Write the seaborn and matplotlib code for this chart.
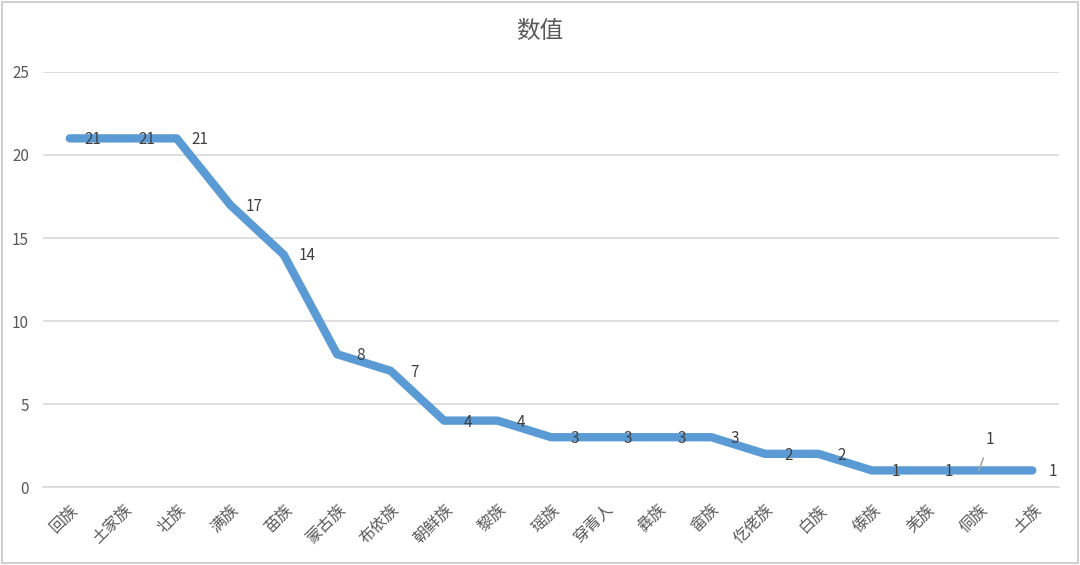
import matplotlib
matplotlib.use("Agg")
import matplotlib.pyplot as plt
import seaborn as sns
import pandas as pd
from matplotlib.patches import Rectangle

categories = ["回族", "土家族", "壮族", "满族", "苗族", "蒙古族", "布依族", "朝鲜族", "黎族", "瑶族",
              "穿青人", "彝族", "畲族", "仡佬族", "白族", "傣族", "羌族", "侗族", "土族"]
values = [21, 21, 21, 17, 14, 8, 7, 4, 4, 3, 3, 3, 3, 2, 2, 1, 1, 1, 1]
title = "数值"
yticks = [0, 5, 10, 15, 20, 25]

sns.set_theme(style="white")
plt.rcParams['font.family'] = ['Noto Sans CJK SC', 'DejaVu Sans']

df = pd.DataFrame({"x": list(range(len(categories))), "v": values})

fig = plt.figure(figsize=(10.8, 5.65), dpi=100)
ax = fig.add_axes([0.0398, 0.138, 0.9408, 0.7346])
sns.lineplot(data=df, x="x", y="v", ax=ax, color="#5B9BD5", linewidth=6,
             solid_capstyle="round", solid_joinstyle="round")

ax.set_xlim(-0.5, len(categories) - 0.5)
ax.set_ylim(0, 25)
ax.set_yticks(yticks)
ax.set_yticklabels([str(t) for t in yticks], color="#595959", fontsize=11)
ax.set_xticks(range(len(categories)))
ax.set_xticklabels(categories, rotation=45, ha="right", rotation_mode="anchor",
                   color="#595959", fontsize=11.5)
ax.tick_params(axis="both", length=0, pad=10)
ax.set_xlabel("")
ax.set_ylabel("")
ax.yaxis.grid(True, color="#D9D9D9", linewidth=1.2)
ax.xaxis.grid(False)
for s in ["top", "right", "left"]:
    ax.spines[s].set_visible(False)
ax.spines["bottom"].set_color("#D9D9D9")
ax.spines["bottom"].set_linewidth(1.2)

for i, v in enumerate(values):
    if categories[i] == "侗族":
        ax.annotate(str(v), xy=(i, v), xytext=(8, 22), textcoords="offset points",
                    ha="center", va="center", fontsize=11, color="#404040",
                    arrowprops=dict(arrowstyle="-", color="#A6A6A6", lw=1.2,
                                    shrinkA=5, shrinkB=0))
    elif i == len(values) - 1:
        ax.annotate(str(v), xy=(i, v), xytext=(15, -1), textcoords="offset points",
                    ha="center", va="center", fontsize=11, color="#404040")
    else:
        ax.annotate(str(v), xy=(i, v), xytext=(17, -1), textcoords="offset points",
                    ha="center", va="center", fontsize=11, color="#404040")

fig.text(0.5, 0.945, title, ha="center", va="center", fontsize=17, color="#595959")
fig.patches.append(Rectangle((0.002, 0.004), 0.996, 0.992, transform=fig.transFigure,
                             fill=False, edgecolor="#D0D0D0", linewidth=1.5))

fig.savefig("out.png", dpi=100)
